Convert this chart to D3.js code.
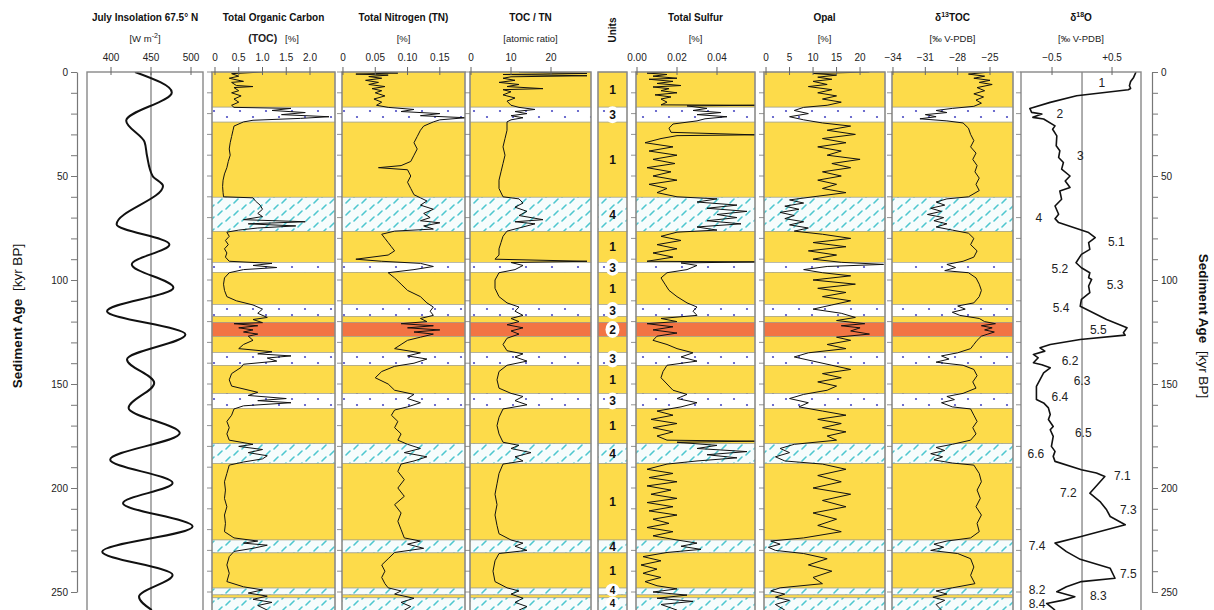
<!DOCTYPE html>
<html><head><meta charset="utf-8">
<script src="https://cdn.jsdelivr.net/npm/d3@7"></script>
<style>body{margin:0;background:#fff}svg{display:block;font-family:"Liberation Sans",Arial,sans-serif}</style>
</head><body>
<script>
// lithological units: [top kyr, bottom kyr, unit, show label]
var units = [[0,16.9,1,1],[16.9,24.1,3,1],[24.1,60.2,1,1],[60.2,76.6,4,1],[76.6,91.5,1,1],[91.5,96.3,3,1],
  [96.3,111.8,1,1],[111.8,117.5,3,1],[117.5,120.4,1,0],[120.4,127.2,2,1],[127.2,134.9,1,0],[134.9,141.1,3,1],
  [141.1,154.6,1,1],[154.6,161.8,3,1],[161.8,178.7,1,1],[178.7,188.3,4,1],[188.3,225,1,1],[225,231.2,4,1],
  [231.2,248.1,1,1],[248.1,251.4,4,1],[251.4,252.8,1,0],[252.8,262,4,1]];

var insolation = [[0,430],[9.8,476],[23.4,419],[33.7,442],[40.3,445],[50,452],[54.8,465],[73.2,407],[82.9,473],
  [92.5,426],[103.7,478],[115,395],[126.2,493],[138.2,420],[149.5,454],[161.5,422],[173.6,486],[186.4,399],
  [197.6,477],[207.3,415],[218.5,502],[230.6,389],[241.8,477],[252.3,435],[258.7,451]];

var toc = [[0,1.0],[0.8,0.35],[2,0.5],[3,0.3],[4.5,0.6],[5,0.35],[6.5,0.45],[7,0.8],[7.5,0.4],[9,0.5],[10,0.35],
  [11.5,0.55],[13,0.4],[14.5,0.5],[16,0.35],[17,0.4],[17.5,1.6],[18.5,1.2],[19.5,1.9],[20.5,1.4],[21.5,2.4],
  [22.3,1.8],[23.2,0.8],[24,0.6],[26,0.4],[28,0.38],[31,0.35],[34,0.32],[37,0.3],[40,0.32],[43,0.28],[46,0.25],
  [49,0.2],[52,0.17],[55,0.16],[58,0.17],[60,0.18],[60.5,0.8],[62,0.85],[64,0.95],[66,1.0],[68,0.9],[69.5,1.0],
  [71,0.6],[72,1.9],[73,0.7],[74,1.7],[75,0.9],[76,0.5],[77,0.25],[79,0.3],[81,0.22],[83,0.28],[85,0.2],[87,0.25],
  [89,0.22],[91,0.3],[92,1.2],[93,0.8],[94,1.3],[95,0.6],[96.5,0.3],[99,0.2],[102,0.18],[105,0.2],[108,0.25],
  [110,0.45],[112,0.8],[114,1.0],[116,0.9],[118,1.1],[119,0.8],[120.5,1.0],[121,0.4],[122,0.9],[123,0.5],
  [124,0.8],[125,0.6],[126,0.9],[127,0.7],[129,0.8],[131,0.6],[133,0.5],[134.5,1.2],[135.5,0.9],[136.5,1.6],
  [137.5,1.1],[139,1.3],[140.5,0.6],[142,0.55],[145,0.35],[148,0.3],[151,0.35],[154,0.9],[155.5,0.7],[157,1.5],
  [158,0.9],[159,1.6],[160.5,0.6],[162,0.4],[165,0.35],[168,0.25],[171,0.3],[174,0.25],[177,0.3],[179,0.8],
  [180,0.5],[181.5,1.0],[183,0.7],[184.5,1.1],[186,1.0],[187.5,0.6],[189,0.3],[193,0.25],[197,0.2],[201,0.22],
  [205,0.2],[209,0.25],[213,0.2],[217,0.22],[221,0.2],[224,0.4],[225.5,0.9],[226.5,0.6],[227.5,1.1],[229,0.8],
  [230.5,0.4],[233,0.3],[237,0.25],[241,0.3],[245,0.25],[247.5,0.6],[249,1.0],[250.5,0.7],[252,1.1],[253.5,0.8],
  [255,1.2],[256.5,0.9],[258.7,1.1]];

var tn = [[0,0.05],[0.5,0.085],[1,0.02],[1.5,0.07],[2.2,0.04],[3,0.06],[4,0.035],[5,0.055],[6,0.04],[7,0.065],
  [8,0.045],[9,0.06],[10,0.05],[11.5,0.065],[13,0.048],[14.5,0.06],[16,0.052],[17,0.07],[18,0.11],[19,0.09],
  [20,0.15],[21,0.12],[22,0.19],[23,0.15],[24,0.14],[26,0.125],[28,0.12],[31,0.115],[34,0.11],[37,0.115],
  [40,0.11],[43,0.105],[45,0.09],[46,0.055],[47,0.1],[50,0.105],[53,0.1],[56,0.105],[59,0.11],[60.5,0.12],
  [62,0.13],[64,0.12],[66,0.14],[68,0.125],[70,0.135],[71.5,0.12],[72.5,0.15],[74,0.125],[75.5,0.14],[76.5,0.08],
  [78,0.06],[80,0.065],[82,0.07],[84,0.075],[86,0.08],[88,0.07],[90,0.02],[91,0.06],[92,0.12],[93.5,0.14],
  [95,0.11],[96.5,0.07],[99,0.08],[102,0.09],[105,0.1],[108,0.12],[111,0.13],[113,0.14],[115,0.135],[117,0.14],
  [118.5,0.12],[120,0.13],[121,0.09],[122,0.14],[123,0.1],[124,0.15],[125,0.11],[126,0.14],[127.5,0.12],[129,0.1],
  [131,0.09],[133,0.08],[135,0.12],[136.5,0.1],[138,0.13],[140,0.11],[141.5,0.08],[144,0.06],[147,0.05],[150,0.07],
  [153,0.08],[155,0.11],[157,0.1],[159,0.12],[161,0.1],[162.5,0.08],[165,0.075],[168,0.085],[171,0.08],[174,0.09],
  [177,0.085],[179,0.1],[181,0.12],[183,0.095],[185,0.13],[187,0.11],[188.5,0.09],[192,0.085],[196,0.095],
  [200,0.085],[204,0.095],[208,0.08],[212,0.09],[216,0.085],[220,0.09],[224,0.095],[225.5,0.12],[227,0.1],
  [229,0.125],[231,0.08],[234,0.07],[237,0.06],[240,0.065],[243,0.06],[246,0.065],[248,0.07],[249.5,0.09],
  [251,0.08],[253,0.11],[255,0.09],[257,0.105],[258.7,0.095]];

var tocTn = [[0,12],[0.7,29],[1.2,8],[1.8,29],[2.3,10],[3,8],[4,11],[5,7],[6,12],[7,9],[8,18],[8.5,8],[9.5,10],
  [11,8],[12.5,11],[14,9],[16,10],[17,12],[18,16],[19,11],[20,14],[21,10],[22,13],[23,10],[24,9],[28,9],[32,8.5],
  [36,8],[40,8.5],[44,8],[48,7.5],[52,7],[56,7],[60,8],[61,12],[63,13],[65,11],[67,14],[69,12],[71,18],[72,11],
  [73,16],[75,12],[76.5,9],[79,8],[82,7.5],[85,7],[88,7],[90,6],[91,29],[91.6,10],[93,13],[95,11],[96.5,7],
  [100,6],[104,6],[108,7],[111,9],[113,12],[115,11],[117,13],[118.5,10],[120,12],[121.5,9],[123,13],[124.5,10],
  [126,12],[128,9],[131,8],[134,9],[135.5,13],[137,11],[139,14],[141,9],[144,7],[148,6.5],[152,7],[154.5,10],
  [156,13],[158,11],[160,14],[162,8],[166,7],[170,6.5],[174,7],[178,8],[179.5,12],[181,10],[183,15],[185,11],
  [187,13],[188.5,8],[193,7],[198,6.5],[203,6],[208,6.5],[213,6],[218,6.5],[222,7],[225,10],[226.5,13],[228,11],
  [230,14],[231.5,7],[235,6],[240,5.5],[245,6],[248,9],[249.5,12],[251,10],[253,13],[255,11],[257,14],[258.7,12]];

var sulfur = [[0,0.02],[0.5,0.005],[1.2,0.015],[2,0.008],[3,0.02],[3.5,0.006],[4.5,0.018],[5.5,0.01],[6.5,0.022],
  [7.2,0.008],[8,0.016],[9,0.012],[10,0.02],[11,0.009],[12,0.017],[13,0.012],[14.5,0.015],[15.8,0.012],[16,0.059],
  [16.3,0.025],[17.5,0.035],[18.5,0.028],[19.5,0.042],[20.5,0.03],[21.5,0.045],[22.5,0.034],[23.5,0.03],[25,0.018],
  [27,0.016],[29,0.017],[30.2,0.059],[30.6,0.02],[32,0.012],[34,0.004],[36,0.018],[38,0.006],[40,0.02],[42,0.008],
  [44,0.019],[46,0.005],[48,0.017],[50,0.008],[52,0.02],[54,0.006],[56,0.015],[58,0.01],[60,0.02],[61,0.04],
  [62.5,0.03],[64,0.05],[65.5,0.035],[67,0.055],[68.5,0.04],[70,0.05],[71.5,0.035],[73,0.052],[74.5,0.03],
  [76,0.04],[77,0.02],[79,0.012],[81,0.022],[83,0.01],[85,0.02],[87,0.008],[89,0.018],[91,0.005],[91.3,0.059],
  [91.8,0.022],[93,0.03],[95,0.025],[96.5,0.015],[99,0.012],[102,0.014],[105,0.016],[108,0.02],[111,0.025],
  [113,0.03],[115,0.028],[117,0.03],[118.5,0.012],[120,0.02],[121,0.005],[122.5,0.018],[124,0.008],[125.5,0.02],
  [127,0.01],[129,0.008],[131,0.015],[133,0.02],[135,0.028],[137,0.022],[139,0.03],[141,0.015],[144,0.013],
  [147,0.012],[150,0.015],[153,0.018],[155,0.025],[157,0.02],[159,0.03],[161,0.022],[163,0.01],[165,0.018],
  [167,0.007],[169,0.02],[171,0.008],[173,0.018],[175,0.01],[177,0.015],[177.5,0.059],[178,0.02],[179.5,0.04],
  [181,0.03],[182.5,0.055],[184,0.035],[185.5,0.05],[187,0.03],[188.5,0.015],[191,0.005],[193,0.018],[195,0.006],
  [197,0.02],[199,0.005],[201,0.017],[203,0.007],[205,0.02],[207,0.005],[209,0.018],[211,0.006],[213,0.02],
  [215,0.008],[217,0.016],[219,0.005],[221,0.018],[223,0.008],[225,0.02],[226.5,0.03],[228,0.022],[229.5,0.032],
  [231,0.015],[233,0.003],[235,0.012],[237,0.002],[239,0.01],[241,0.003],[243,0.012],[245,0.004],[247,0.01],
  [248.5,0.02],[250,0.008],[251.5,0.025],[253,0.01],[254.5,0.028],[256,0.012],[258.7,0.02]];

var opal = [[0,22],[0.7,10],[1.5,15],[2.5,11],[3.5,14],[4.5,10],[6,13],[7,9],[8.5,14],[10,11],[11.5,15],[13,12],
  [14.5,16],[16,13],[17,8],[18.5,6],[20,9],[21.5,5],[23,8],[24.5,12],[26,18],[28,13],[30,19],[32,12],[34,17],
  [36,11],[38,16],[40,13],[42,20],[44,14],[46,18],[48,12],[50,16],[52,11],[54,15],[56,12],[58,17],[60,10],[61.5,5],
  [63,8],[64.5,4],[66,7],[67.5,3],[69,6],[70.5,4],[72,8],[73.5,5],[75,9],[76.5,6],[78,12],[80,18],[82,10],[84,17],
  [86,9],[88,15],[90,10],[91.5,16],[92.5,25],[93.5,13],[95,8],[96.5,12],[98,18],[100,10],[102,19],[104,11],
  [106,17],[108,12],[110,18],[112,14],[114,10],[116,16],[118,19],[119.5,15],[121,21],[122,16],[123,20],[124.5,18],
  [126,22],[127.5,15],[129,18],[131,13],[133,17],[135,9],[137,6],[139,10],[141,14],[143,18],[145,12],[147,16],
  [149,11],[151,15],[153,13],[155,8],[157,5],[159,9],[161,7],[163,12],[165,17],[167,11],[169,16],[171,12],
  [173,17],[175,13],[177,15],[179,6],[181,3],[183,5],[185,2],[187,4],[188.5,12],[191,17],[194,11],[197,16],
  [200,10],[203,18],[206,12],[209,17],[212,10],[215,15],[218,11],[221,16],[224,8],[225.5,1],[227,3],[228.5,0.5],
  [230,2],[231.5,8],[234,13],[237,9],[240,14],[243,10],[246,12],[248,3],[249.5,1],[251,4],[252.5,2],[254,5],
  [256,2],[258.7,4]];

var d13c = [[0,-25],[1,-27],[2,-25.5],[3,-26.5],[4,-25],[5,-26],[6,-24.8],[7.5,-26.2],[9,-25.5],[10.5,-26.5],
  [12,-25.6],[13.5,-26.3],[15,-25.8],[16.5,-26.5],[17.5,-28.5],[18.5,-30],[19.5,-29],[20.5,-31],[21.5,-30],
  [22.5,-31.5],[23.5,-29],[24.5,-27.5],[27,-27],[30,-26.8],[33,-26.5],[36,-26.8],[39,-26.3],[42,-26.6],[45,-26.2],
  [48,-26.4],[51,-26],[54,-26.3],[57,-26],[60,-27],[61,-29],[62.5,-30],[64,-29.2],[65.5,-30.5],[67,-29.5],
  [68.5,-30.8],[70,-29.3],[71.5,-30.2],[73,-29],[74.5,-30],[76,-28.5],[77.5,-27],[80,-26.5],[83,-26.8],[86,-26.2],
  [89,-26.5],[91,-27.5],[92.5,-29],[94,-28.2],[95.5,-29.2],[96.5,-27],[99,-26.3],[102,-26],[105,-25.8],[108,-26],
  [111,-26.5],[112.5,-28],[114,-27.3],[115.5,-28.5],[117,-27.8],[118.5,-26],[120,-25.5],[121,-24.5],[122,-25.8],
  [123,-24.8],[124,-25.5],[125,-24.6],[126,-25.2],[127,-25.8],[129,-26.2],[131,-26.5],[133,-26.8],[135,-28],
  [136.5,-29.5],[138,-28.8],[139.5,-30],[141,-27.5],[143,-26.5],[146,-26.2],[149,-26.6],[152,-26.3],[154.5,-27.5],
  [156,-29],[157.5,-28.3],[159,-29.5],[161,-28.5],[162,-26.8],[165,-26.5],[168,-26.2],[171,-26.6],[174,-26.3],
  [177,-26.8],[179,-28.5],[180.5,-30],[182,-29.2],[183.5,-30.5],[185,-29.4],[186.5,-30.2],[188,-28.5],[189,-26.5],
  [193,-26],[197,-25.8],[201,-26.2],[205,-25.9],[209,-26.3],[213,-25.8],[217,-26.2],[221,-26],[224,-26.8],
  [225.5,-29],[227,-30.2],[228.5,-29.3],[230,-30.5],[231.5,-28],[234,-26.8],[238,-26.5],[242,-26.8],[246,-26.4],
  [248,-28.5],[249.5,-30],[251,-29],[252.5,-30.3],[254,-29.2],[256,-30],[258.7,-29.5]];

var d18o = [[0,0.9],[2.6,0.86],[4.6,0.81],[6.6,0.79],[7.9,0.81],[8.5,0.77],[11.4,-0.09],[14.6,-0.53],[17.5,-0.87],
  [19.4,-0.84],[20.2,-0.67],[21.8,-0.82],[22.6,-0.64],[25.9,-0.45],[27.5,-0.49],[30.7,-0.42],[35.5,-0.43],
  [37.9,-0.37],[41.1,-0.39],[43.5,-0.31],[46.7,-0.34],[50,-0.2],[52.4,-0.28],[55.5,-0.2],[57.2,-0.37],[61.2,-0.34],
  [64.4,-0.45],[68.4,-0.39],[70.5,-0.45],[72.4,-0.39],[77.2,0.11],[79.6,0.22],[82,0.11],[85.3,0.13],[87.7,-0.01],
  [91.7,-0.1],[94.1,-0.01],[96.5,0.13],[98.9,0.11],[99.7,0.16],[102.9,0.11],[106.1,0.13],[109.3,-0.01],
  [112.6,-0.03],[119,0.41],[123,0.75],[125.4,0.69],[126.5,0.72],[128.6,-0.03],[131,-0.53],[132.6,-0.7],
  [134.2,-0.62],[135.8,-0.81],[137.4,-0.73],[139.8,-0.81],[140.7,-0.67],[142.2,-0.53],[144.7,-0.64],[147.9,-0.7],
  [151.1,-0.76],[157.5,-0.76],[159.1,-0.64],[161.5,-0.56],[164.7,-0.53],[167.1,-0.56],[170.4,-0.48],[172,-0.53],
  [175.2,-0.48],[180,-0.51],[182.4,-0.45],[184.8,-0.48],[187.2,-0.45],[191.2,-0.01],[192.8,0.24],[194.5,0.38],
  [202.5,0.13],[206.5,0.3],[210.5,0.41],[213.7,0.47],[217.7,0.72],[223.4,-0.03],[226.5,-0.45],[230.6,-0.26],
  [234.3,-0.03],[238.6,0.47],[243.4,0.55],[245,-0.01],[247.5,-0.26],[249.9,-0.42],[252.3,-0.12],[253.9,-0.31],
  [255.5,-0.59],[258.7,-0.45]];

// marine isotope stage labels: [label, kyr, d18O]
var misLabels = [["1",5.3,0.33],["2",20.2,-0.37],["3",40.4,-0.03],["4",70.2,-0.72],["5.1",81.7,0.57],
  ["5.2",94.7,-0.37],["5.3",102.4,0.55],["5.4",113.5,-0.35],["5.5",124,0.27],["6.2",139,-0.2],["6.3",148.6,0],
  ["6.4",156.3,-0.37],["6.5",173.6,0.02],["6.6",183.7,-0.77],["7.1",194.2,0.67],["7.2",202.4,-0.23],
  ["7.3",210.6,0.77],["7.4",227.9,-0.75],["7.5",241.3,0.77],["8.2",248.7,-0.75],["8.3",251.7,0.27],["8.4",255.6,-0.75]];

var ageTicks = d3.range(0, 261, 10);
var ageLabels = [0, 50, 100, 150, 200, 250];

var width = 1214, height = 610;
var svg = d3.select("body").append("svg").attr("width", width).attr("height", height);
var y = d3.scaleLinear().domain([0, 250]).range([72, 592]);
var yTop = 72, yBot = 625;

var unitFill = {1: "#fddb4a", 2: "#f27444", 3: "url(#dots)", 4: "url(#hatch)"};

var defs = svg.append("defs");
var dots = defs.append("pattern").attr("id", "dots").attr("patternUnits", "userSpaceOnUse")
  .attr("width", 26).attr("height", 12);
dots.append("rect").attr("width", 26).attr("height", 12).attr("fill", "#fff");
dots.append("circle").attr("cx", 6).attr("cy", 3).attr("r", 1.1).attr("fill", "#4c4cc4");
dots.append("circle").attr("cx", 19).attr("cy", 9).attr("r", 1.1).attr("fill", "#4c4cc4");
var hatch = defs.append("pattern").attr("id", "hatch").attr("patternUnits", "userSpaceOnUse")
  .attr("width", 16).attr("height", 12);
hatch.append("rect").attr("width", 16).attr("height", 12).attr("fill", "#f6fcfc");
hatch.append("path").attr("d", "M2,5L6,1M10,11L14,7").attr("stroke", "#4ec7cf").attr("stroke-width", 1.6)
  .attr("stroke-linecap", "round");

// panel layout
var panels = [
  {key: "ins", x0: 87, x1: 203, dom: [370, 515], ticks: [400, 450, 500], fmt: d3.format("d"), data: insolation, bands: false, ref: 450, lw: 2, curve: d3.curveMonotoneY,
   title: "July Insolation 67.5° N", sub: [["[W m", false], ["-2", "sup"], ["]", false]]},
  {key: "toc", x0: 212, x1: 335, dom: [-0.063, 2.526], ticks: [0, 0.5, 1, 1.5, 2], fmt: function(d){ return d === 0 ? "0" : d3.format(".1f")(d); }, data: toc, bands: true,
   title: "Total Organic Carbon", sub: [["(TOC)", "bold"], ["   [%]", false]]},
  {key: "tn", x0: 342, x1: 465, dom: [-0.0015, 0.189], ticks: [0, 0.05, 0.10, 0.15], fmt: function(d){ return d === 0 ? "0" : d3.format(".2f")(d); }, data: tn, bands: true,
   title: "Total Nitrogen (TN)", sub: [["[%]", false]]},
  {key: "toctn", x0: 470, x1: 591, dom: [-0.25, 30], ticks: [0, 10, 20], fmt: d3.format("d"), data: tocTn, bands: true,
   title: "TOC / TN", sub: [["[atomic ratio]", false]]},
  {key: "s", x0: 636, x1: 755, dom: [-0.0005, 0.059], ticks: [0, 0.02, 0.04], fmt: d3.format(".2f"), data: sulfur, bands: true,
   title: "Total Sulfur", sub: [["[%]", false]]},
  {key: "opal", x0: 764, x1: 885, dom: [-0.43, 25.3], ticks: [0, 5, 10, 15, 20], fmt: d3.format("d"), data: opal, bands: true,
   title: "Opal", sub: [["[%]", false]]},
  {key: "d13c", x0: 892, x1: 1013, dom: [-34.09, -22.87], ticks: [-34, -31, -28, -25], fmt: d3.format("d"), data: d13c, bands: true,
   title: "d13", sub: [["[‰ V-PDB]", false]]},
  {key: "d18o", x0: 1021, x1: 1141, dom: [-1.017, 0.983], ticks: [-0.5, 0.5], fmt: function(d){ return (d > 0 ? "+" : "") + d3.format(".1f")(d); }, data: d18o, bands: false, ref: 0, lw: 1.6,
   title: "d18", sub: [["[‰ V-PDB]", false]]}
];

function drawBands(g, x0, x1) {
  g.selectAll("rect.band").data(units).enter().append("rect").attr("class", "band")
    .attr("x", x0).attr("width", x1 - x0)
    .attr("y", function(d){ return y(d[0]); })
    .attr("height", function(d){ return y(d[1]) - y(d[0]); })
    .attr("fill", function(d){ return unitFill[d[2]]; })
    .attr("stroke", "#9a9a8a").attr("stroke-width", 0.6);
}

panels.forEach(function(p) {
  var x = d3.scaleLinear().domain(p.dom).range([p.x0, p.x1]);
  var g = svg.append("g");
  var cx = (p.x0 + p.x1) / 2;
  var clipId = "clip-" + p.key;
  defs.append("clipPath").attr("id", clipId).append("rect")
    .attr("x", p.x0).attr("y", yTop).attr("width", p.x1 - p.x0).attr("height", yBot - yTop);

  if (p.bands) drawBands(g, p.x0, p.x1);
  else g.append("rect").attr("x", p.x0).attr("y", yTop).attr("width", p.x1 - p.x0).attr("height", yBot - yTop).attr("fill", "#fff");

  if (p.ref !== undefined)
    g.append("line").attr("x1", x(p.ref)).attr("x2", x(p.ref)).attr("y1", yTop).attr("y2", yBot)
      .attr("stroke", "#777").attr("stroke-width", 1.2);

  var line = d3.line().x(function(d){ return x(d[1]); }).y(function(d){ return y(d[0]); });
  if (p.curve) line.curve(p.curve);
  g.append("path").datum(p.data).attr("d", line).attr("fill", "none")
    .attr("stroke", "#111").attr("stroke-width", p.lw || 1).attr("stroke-linejoin", "round")
    .attr("clip-path", "url(#" + clipId + ")");

  g.append("rect").attr("x", p.x0).attr("y", yTop).attr("width", p.x1 - p.x0).attr("height", yBot - yTop)
    .attr("fill", "none").attr("stroke", "#888").attr("stroke-width", 1.4);

  g.selectAll("line.tt").data(p.ticks).enter().append("line")
    .attr("x1", function(d){ return x(d); }).attr("x2", function(d){ return x(d); })
    .attr("y1", yTop - 5).attr("y2", yTop + 3).attr("stroke", "#666").attr("stroke-width", 1);
  g.selectAll("text.tl").data(p.ticks).enter().append("text")
    .attr("x", function(d){ return x(d); }).attr("y", 61).attr("text-anchor", "middle")
    .attr("font-size", 10).attr("fill", "#222").text(p.fmt);

  if (p.key !== "ins")
    g.selectAll("line.at").data(ageTicks).enter().append("line")
      .attr("x1", p.x0 - 5).attr("x2", p.x0).attr("y1", function(d){ return y(d); }).attr("y2", function(d){ return y(d); })
      .attr("stroke", "#777").attr("stroke-width", 0.8);

  var t = g.append("text").attr("x", cx).attr("y", 21).attr("text-anchor", "middle")
    .attr("font-size", 10).attr("font-weight", "bold").attr("fill", "#111");
  if (p.title === "d13" || p.title === "d18") {
    t.append("tspan").text("δ");
    t.append("tspan").attr("font-size", 7).attr("dy", -4).text(p.title.slice(1));
    t.append("tspan").attr("dy", 4).text(p.title === "d13" ? "TOC" : "O");
  } else t.text(p.title);

  var s = g.append("text").attr("x", cx).attr("y", 42).attr("text-anchor", "middle")
    .attr("font-size", 9.5).attr("fill", "#222").attr("xml:space", "preserve");
  p.sub.forEach(function(part, i) {
    var ts = s.append("tspan").text(part[0]);
    if (part[1] === "bold") ts.attr("font-weight", "bold").attr("font-size", 10.5);
    if (part[1] === "sup") ts.attr("font-size", 7).attr("dy", -4);
    else if (i > 0 && p.sub[i - 1][1] === "sup") ts.attr("dy", 4);
  });

  p.x = x;
});

// isotope stage labels
var pd = panels[7];
svg.append("g").selectAll("text").data(misLabels).enter().append("text")
  .attr("x", function(d){ return pd.x(d[2]); }).attr("y", function(d){ return y(d[1]); })
  .attr("dy", "0.36em").attr("text-anchor", "middle").attr("font-size", 12).attr("fill", "#222")
  .text(function(d){ return d[0]; });

// units column
var ug = svg.append("g");
drawBands(ug, 598, 627);
var lab = units.filter(function(d){ return d[3]; });
function isBottom(d) { return d[0] > 245; }
function labY(d) {
  if (d[0] > 252) return 603;
  if (d[0] > 245) return 590;
  return y((d[0] + d[1]) / 2);
}
ug.selectAll("ellipse").data(lab.filter(function(d){ return d[2] === 2 || d[2] === 3 || isBottom(d); }))
  .enter().append("ellipse")
  .attr("cx", 612.5).attr("cy", labY).attr("rx", 7)
  .attr("ry", function(d){ return isBottom(d) ? 6.5 : 8.5; }).attr("fill", "#fff");
ug.selectAll("text").data(lab).enter().append("text")
  .attr("x", 612.5).attr("y", labY).attr("dy", "0.36em")
  .attr("text-anchor", "middle").attr("font-size", function(d){ return isBottom(d) ? 10 : 12; })
  .attr("font-weight", "bold").attr("fill", "#111")
  .text(function(d){ return d[2]; });
ug.append("rect").attr("x", 598).attr("y", yTop).attr("width", 29).attr("height", yBot - yTop)
  .attr("fill", "none").attr("stroke", "#888").attr("stroke-width", 1.4);
svg.append("text").attr("transform", "translate(616,30) rotate(-90)").attr("text-anchor", "middle")
  .attr("font-size", 10).attr("font-weight", "bold").attr("fill", "#111").text("Units");

// age axes
var fmtAge = function(d){ return ageLabels.indexOf(d) >= 0 ? d : ""; };
var gl = svg.append("g").attr("transform", "translate(77,0)")
  .call(d3.axisLeft(y).tickValues(ageTicks).tickSize(6).tickSizeOuter(0).tickFormat(fmtAge));
var gr = svg.append("g").attr("transform", "translate(1152,0)")
  .call(d3.axisRight(y).tickValues(ageTicks).tickSize(6).tickSizeOuter(0).tickFormat(fmtAge));
[gl, gr].forEach(function(g) {
  g.select(".domain").attr("stroke", "#777").attr("stroke-width", 1.2);
  g.selectAll(".tick line").attr("stroke", "#777").attr("stroke-width", 1);
  g.selectAll(".tick text").attr("font-size", 10).attr("fill", "#222")
    .attr("font-family", '"Liberation Sans",Arial,sans-serif');
});

function ageTitle(x, yc, rot) {
  var t = svg.append("text").attr("transform", "translate(" + x + "," + yc + ") rotate(" + rot + ")")
    .attr("text-anchor", "middle").attr("font-size", 13.5).attr("fill", "#111").attr("xml:space", "preserve");
  t.append("tspan").attr("font-weight", "bold").text("Sediment Age");
  t.append("tspan").text("  [kyr BP]");
}
ageTitle(22, 316, -90);
ageTitle(1199, 326, 90);
</script>
</body></html>
